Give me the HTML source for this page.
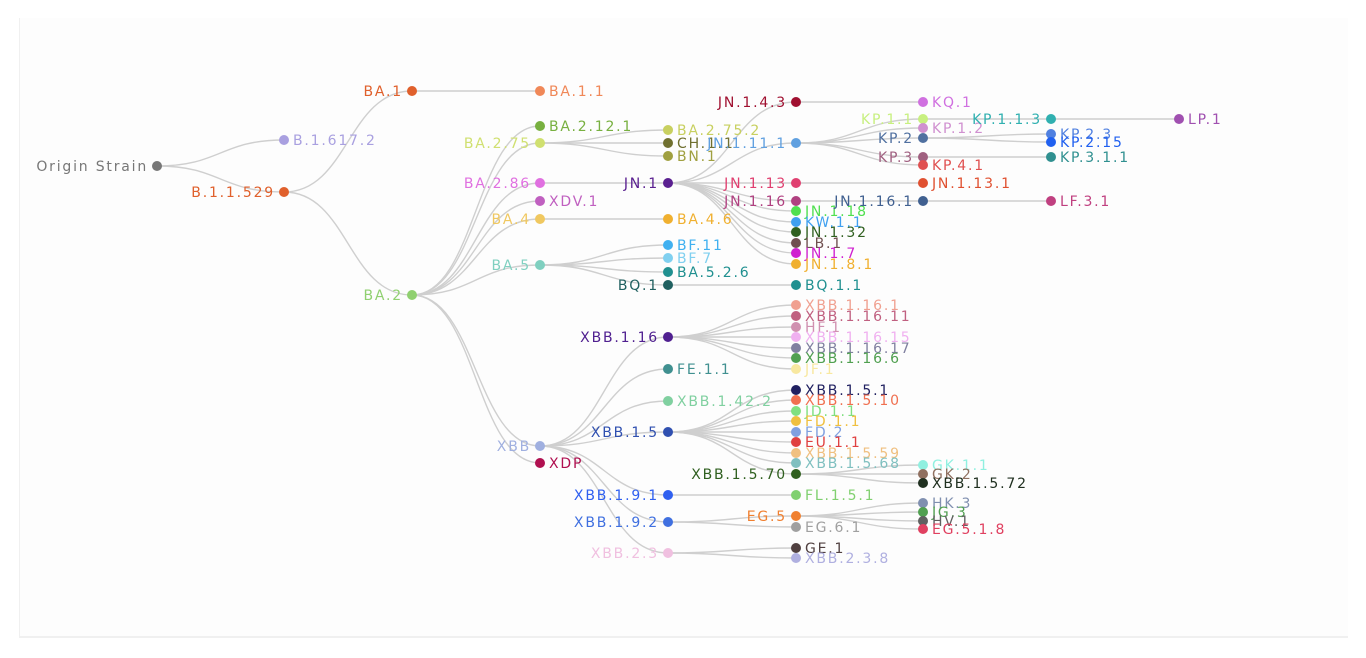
<!DOCTYPE html>
<html><head><meta charset="utf-8"><style>
html,body{margin:0;padding:0;background:#fff;}
#frame{position:absolute;left:19px;top:18px;width:1328px;height:618px;border-left:1px solid #f0f0f0;border-bottom:2px solid #f0f0f0;background:#fdfdfd;}
svg{position:absolute;left:0;top:0;}
text{font-family:"DejaVu Sans","Liberation Sans",sans-serif;font-size:14px;letter-spacing:1.8px;}
.l{text-anchor:end;}
</style></head><body>
<div id="frame"></div>
<svg id="s" width="1366" height="658" xmlns="http://www.w3.org/2000/svg">
<g id="edges" fill="none" stroke="#cfcfcf" stroke-width="1.4"></g>
<g id="dots"></g>
<g id="labels">
<text class="l" x="148" y="171" fill="#777">Origin Strain</text>
<text x="293" y="145" fill="#a9a0e0">B.1.617.2</text>
<text class="l" x="275" y="197" fill="#e0602c">B.1.1.529</text>
<text class="l" x="403" y="96" fill="#e0602c">BA.1</text>
<text x="549" y="96" fill="#f08858">BA.1.1</text>
<text class="l" x="403" y="300" fill="#90d070">BA.2</text>
<text x="549" y="131" fill="#78b040">BA.2.12.1</text>
<text class="l" x="531" y="148" fill="#d0e070">BA.2.75</text>
<text class="l" x="531" y="188" fill="#e070e0">BA.2.86</text>
<text x="549" y="206" fill="#c060c0">XDV.1</text>
<text class="l" x="531" y="224" fill="#f0c860">BA.4</text>
<text class="l" x="531" y="270" fill="#80d0c0">BA.5</text>
<text class="l" x="531" y="451" fill="#a0b0e0">XBB</text>
<text x="549" y="468" fill="#b01050">XDP</text>
<text x="677" y="135" fill="#c8d060">BA.2.75.2</text>
<text x="677" y="148" fill="#707030">CH.1.1</text>
<text x="677" y="161" fill="#a0a040">BN.1</text>
<text class="l" x="659" y="188" fill="#5a2090">JN.1</text>
<text x="677" y="224" fill="#f0b030">BA.4.6</text>
<text x="677" y="250" fill="#40b0f0">BF.11</text>
<text x="677" y="263" fill="#80d0f0">BF.7</text>
<text x="677" y="277" fill="#209090">BA.5.2.6</text>
<text class="l" x="659" y="290" fill="#206060">BQ.1</text>
<text x="805" y="290" fill="#209090">BQ.1.1</text>
<text class="l" x="787" y="107" fill="#a01030">JN.1.4.3</text>
<text class="l" x="787" y="148" fill="#60a0e0">JN.1.11.1</text>
<text class="l" x="787" y="188" fill="#e04070">JN.1.13</text>
<text class="l" x="787" y="206" fill="#b04080">JN.1.16</text>
<text x="805" y="216" fill="#50e050">JN.1.18</text>
<text x="805" y="227" fill="#40a0f0">KW.1.1</text>
<text x="805" y="237" fill="#306020">JN.1.32</text>
<text x="805" y="248" fill="#705050">LB.1</text>
<text x="805" y="258" fill="#d020d0">JN.1.7</text>
<text x="805" y="269" fill="#f0b030">JN.1.8.1</text>
<text x="932" y="107" fill="#d070e0">KQ.1</text>
<text class="l" x="914" y="124" fill="#c8f080">KP.1.1</text>
<text x="932" y="133" fill="#d090d0">KP.1.2</text>
<text class="l" x="914" y="143" fill="#5070a0">KP.2</text>
<text class="l" x="914" y="162" fill="#a06080">KP.3</text>
<text x="932" y="170" fill="#e05050">KP.4.1</text>
<text x="932" y="188" fill="#e05030">JN.1.13.1</text>
<text class="l" x="914" y="206" fill="#406090">JN.1.16.1</text>
<text class="l" x="1042" y="124" fill="#30b0b0">KP.1.1.3</text>
<text x="1060" y="139" fill="#5080e0">KP.2.3</text>
<text x="1060" y="147" fill="#2060f0">KP.2.15</text>
<text x="1060" y="162" fill="#309090">KP.3.1.1</text>
<text x="1060" y="206" fill="#c04080">LF.3.1</text>
<text x="1188" y="124" fill="#a050b0">LP.1</text>
<text class="l" x="659" y="342" fill="#502090">XBB.1.16</text>
<text x="677" y="374" fill="#409090">FE.1.1</text>
<text x="677" y="406" fill="#80d0a0">XBB.1.42.2</text>
<text class="l" x="659" y="437" fill="#3050b0">XBB.1.5</text>
<text class="l" x="659" y="500" fill="#3060f0">XBB.1.9.1</text>
<text class="l" x="659" y="527" fill="#4070e0">XBB.1.9.2</text>
<text class="l" x="659" y="558" fill="#f0c0e0">XBB.2.3</text>
<text x="805" y="310" fill="#f0a090">XBB.1.16.1</text>
<text x="805" y="321" fill="#c06080">XBB.1.16.11</text>
<text x="805" y="332" fill="#d090b0">HF.1</text>
<text x="805" y="342" fill="#f0b0f0">XBB.1.16.15</text>
<text x="805" y="353" fill="#8080a0">XBB.1.16.17</text>
<text x="805" y="363" fill="#50a050">XBB.1.16.6</text>
<text x="805" y="374" fill="#f8e8a0">JF.1</text>
<text x="805" y="395" fill="#202060">XBB.1.5.1</text>
<text x="805" y="405" fill="#f07050">XBB.1.5.10</text>
<text x="805" y="416" fill="#80e080">JD.1.1</text>
<text x="805" y="426" fill="#f0c040">FD.1.1</text>
<text x="805" y="437" fill="#80a0e0">FD.2</text>
<text x="805" y="447" fill="#e04040">EU.1.1</text>
<text x="805" y="458" fill="#f0c080">XBB.1.5.59</text>
<text x="805" y="468" fill="#80c0c0">XBB.1.5.68</text>
<text class="l" x="787" y="479" fill="#306020">XBB.1.5.70</text>
<text x="932" y="470" fill="#90f0e0">GK.1.1</text>
<text x="932" y="479" fill="#907060">GK.2</text>
<text x="932" y="488" fill="#203020">XBB.1.5.72</text>
<text x="805" y="500" fill="#80d070">FL.1.5.1</text>
<text class="l" x="787" y="521" fill="#f08030">EG.5</text>
<text x="805" y="532" fill="#a0a0a0">EG.6.1</text>
<text x="932" y="508" fill="#8090b0">HK.3</text>
<text x="932" y="517" fill="#50a050">JG.3</text>
<text x="932" y="526" fill="#606060">HV.1</text>
<text x="932" y="534" fill="#e04060">EG.5.1.8</text>
<text x="805" y="553" fill="#504040">GE.1</text>
<text x="805" y="563" fill="#b0b0e0">XBB.2.3.8</text>
</g>
</svg>
<script>
var N=[
["o",157,166,"#777",""],
["b16",284,140,"#a9a0e0","o"],["b529",284,192,"#e0602c","o"],
["ba1",412,91,"#e0602c","b529"],["ba2",412,295,"#90d070","b529"],
["ba11",540,91,"#f08858","ba1"],
["ba2121",540,126,"#78b040","ba2"],["ba275",540,143,"#d0e070","ba2"],["ba286",540,183,"#e070e0","ba2"],["xdv",540,201,"#c060c0","ba2"],["ba4",540,219,"#f0c860","ba2"],["ba5",540,265,"#80d0c0","ba2"],["xbb",540,446,"#a0b0e0","ba2"],["xdp",540,463,"#b01050","ba2"],
["a1",668,130,"#c8d060","ba275"],["a2",668,143,"#707030","ba275"],["a3",668,156,"#a0a040","ba275"],
["jn1",668,183,"#5a2090","ba286"],["ba46",668,219,"#f0b030","ba4"],
["bf11",668,245,"#40b0f0","ba5"],["bf7",668,258,"#80d0f0","ba5"],["ba526",668,272,"#209090","ba5"],["bq1",668,285,"#206060","ba5"],
["bq11",796,285,"#209090","bq1"],
["j143",796,102,"#a01030","jn1"],["j111",796,143,"#60a0e0","jn1"],["j113",796,183,"#e04070","jn1"],["j116",796,201,"#b04080","jn1"],["j118",796,211,"#50e050","jn1"],["kw",796,222,"#40a0f0","jn1"],["j132",796,232,"#306020","jn1"],["lb1",796,243,"#705050","jn1"],["j17",796,253,"#d020d0","jn1"],["j181",796,264,"#f0b030","jn1"],
["kq1",923,102,"#d070e0","j143"],
["kp11",923,119,"#c8f080","j111"],["kp12",923,128,"#d090d0","j111"],["kp2",923,138,"#5070a0","j111"],["kp3",923,157,"#a06080","j111"],["kp41",923,165,"#e05050","j111"],
["j1131",923,183,"#e05030","j113"],["j1161",923,201,"#406090","j116"],
["kp113",1051,119,"#30b0b0","kp11"],["kp23",1051,134,"#5080e0","kp2"],["kp215",1051,142,"#2060f0","kp2"],["kp311",1051,157,"#309090","kp3"],["lf31",1051,201,"#c04080","j1161"],
["lp1",1179,119,"#a050b0","kp113"],
["x116",668,337,"#502090","xbb"],["fe11",668,369,"#409090","xbb"],["x142",668,401,"#80d0a0","xbb"],["x15",668,432,"#3050b0","xbb"],["x191",668,495,"#3060f0","xbb"],["x192",668,522,"#4070e0","xbb"],["x23",668,553,"#f0c0e0","xbb"],
["c1",796,305,"#f0a090","x116"],["c2",796,316,"#c06080","x116"],["c3",796,327,"#d090b0","x116"],["c4",796,337,"#f0b0f0","x116"],["c5",796,348,"#8080a0","x116"],["c6",796,358,"#50a050","x116"],["c7",796,369,"#f8e8a0","x116"],
["d1",796,390,"#202060","x15"],["d2",796,400,"#f07050","x15"],["d3",796,411,"#80e080","x15"],["d4",796,421,"#f0c040","x15"],["d5",796,432,"#80a0e0","x15"],["d6",796,442,"#e04040","x15"],["d7",796,453,"#f0c080","x15"],["d8",796,463,"#80c0c0","x15"],["x1570",796,474,"#306020","x15"],
["gk11",923,465,"#90f0e0","x1570"],["gk2",923,474,"#907060","x1570"],["x1572",923,483,"#203020","x1570"],
["fl",796,495,"#80d070","x191"],["eg5",796,516,"#f08030","x192"],["eg61",796,527,"#a0a0a0","x192"],
["hk3",923,503,"#8090b0","eg5"],["jg3",923,512,"#50a050","eg5"],["hv1",923,521,"#606060","eg5"],["eg518",923,529,"#e04060","eg5"],
["ge1",796,548,"#504040","x23"],["x238",796,558,"#b0b0e0","x23"]
];
var M={};N.forEach(function(n){M[n[0]]=n;});
var ns="http://www.w3.org/2000/svg",E=document.getElementById("edges"),D=document.getElementById("dots");
N.forEach(function(n){
 if(n[4]){var p=M[n[4]],mx=(p[1]+n[1])/2;
  var e=document.createElementNS(ns,"path");
  e.setAttribute("d","M"+p[1]+","+p[2]+"C"+mx+","+p[2]+" "+mx+","+n[2]+" "+n[1]+","+n[2]);
  E.appendChild(e);}
 var c=document.createElementNS(ns,"circle");
 c.setAttribute("cx",n[1]);c.setAttribute("cy",n[2]);c.setAttribute("r",5);c.setAttribute("fill",n[3]);
 D.appendChild(c);
});
</script>
</body></html>
